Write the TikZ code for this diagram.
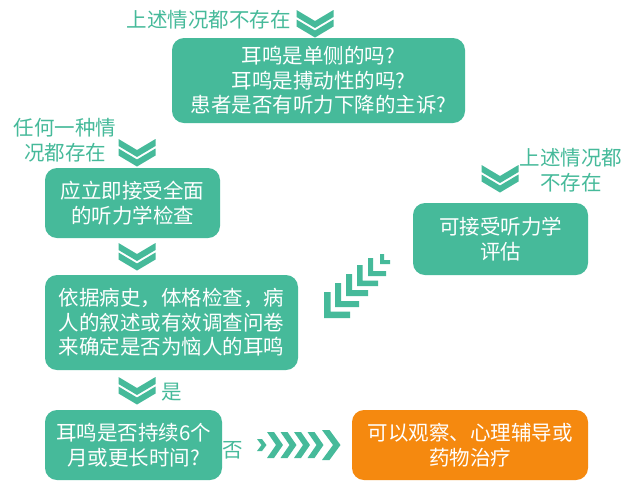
\documentclass[tikz,border=0pt]{standalone}
\usepackage{fontspec}
\setmainfont{Noto Sans CJK SC}
\definecolor{teal1}{HTML}{46BA9A}
\definecolor{orng}{HTML}{F5890F}
\tikzset{
  box/.style={rectangle, rounded corners=12pt, fill=teal1, text=white, align=center,
    inner sep=0pt, font=\fontsize{20.5}{24.5}\selectfont},
  obox/.style={box, fill=orng},
  lbl/.style={text=teal1, align=center, inner sep=0pt, font=\fontsize{20.5}{25}\selectfont},
  dchev/.pic={
    \fill[teal1] (-18.5,0)--(0,11)--(18.5,0)--(18.5,7)--(0,18)--(-18.5,7)--cycle;
    \fill[teal1] (-18.5,9.5)--(0,20.5)--(18.5,9.5)--(18.5,16.5)--(0,27.5)--(-18.5,16.5)--cycle;
  },
}
\begin{document}
\begin{tikzpicture}[x=1pt,y=-1pt]
\useasboundingbox[fill=white] (0,0) rectangle (640,491);

% boxes
\node[box, minimum width=293pt, minimum height=85pt] (q1) at (318.5,80.5)
  {耳鸣是单侧的吗?\\耳鸣是搏动性的吗?\\患者是否有听力下降的主诉?};
\node[box, minimum width=175pt, minimum height=70pt] (full) at (132.5,203)
  {应立即接受全面\\的听力学检查};
\node[box, minimum width=175pt, minimum height=72pt] (eval) at (500.5,239)
  {可接受听力学\\评估};
\node[box, minimum width=253pt, minimum height=95pt] (det) at (171.5,322.5)
  {依据病史，体格检查，病\\人的叙述或有效调查问卷\\来确定是否为恼人的耳鸣};
\node[box, minimum width=177pt, minimum height=70pt] (six) at (133.5,445)
  {耳鸣是否持续6个\\月或更长时间?};
\node[obox, minimum width=236pt, minimum height=70pt] (treat) at (470,445)
  {可以观察、心理辅导或\\药物治疗};

% labels
\node[lbl, anchor=east] (l1) at (291,20) {上述情况都不存在};
\node[lbl] (l2) at (65,140.5) {任何一种情\\况都存在};
\node[lbl] (l3) at (571,170) {上述情况都\\不存在};
\node[lbl] (l4) at (172,392) {是};
\node[lbl] (l5) at (233,450) {否};

% down chevrons
\pic at (315,10) {dchev};
\pic at (137,139) {dchev};
\pic at (137,243) {dchev};
\pic at (137,377) {dchev};
\pic at (500,165) {dchev};

% diagonal (down-left) chevrons
\foreach \cx/\cy/\a/\t in {324/318/26/6.5, 335/307/24/6, 346/296/22/6, 357/286/21/5.5, 368/276/18/5, 380/264/10/4}{
  \fill[teal1] (\cx,\cy-\a) -- (\cx,\cy) -- (\cx+\a,\cy) -- (\cx+\a,\cy-\t) -- (\cx+\t,\cy-\t) -- (\cx+\t,\cy-\a) -- cycle;
}

% right chevrons
\fill[teal1] (257,439)--(261.5,445)--(257,451)--(262,451)--(266.5,445)--(262,439)--cycle;
\foreach \x in {267,280.5,294,307.5}{
  \fill[teal1] (\x,432)--(\x+9,445)--(\x,458)--(\x+7,458)--(\x+16,445)--(\x+7,432)--cycle;
}
\fill[teal1] (322,430)--(333,445)--(322,460)--(329.5,460)--(340.5,445)--(329.5,430)--cycle;
\end{tikzpicture}
\end{document}
